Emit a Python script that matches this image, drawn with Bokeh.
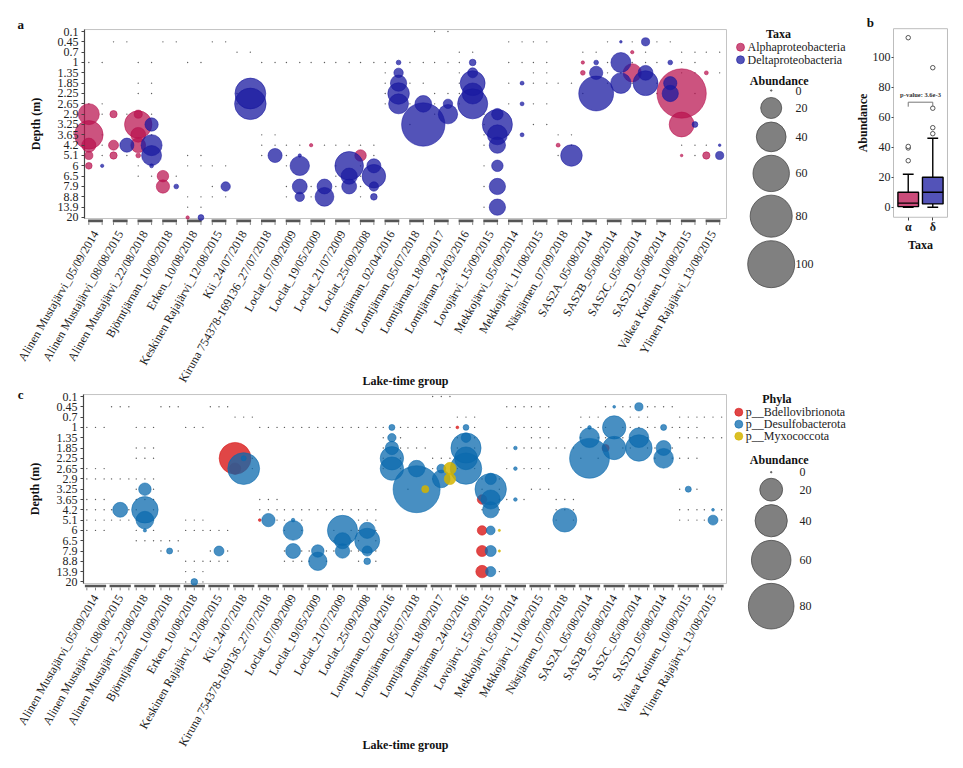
import math
from bokeh.plotting import figure
from bokeh.models import Range1d, FixedTicker, ColumnDataSource, AllLabels, LinearAxis
from bokeh.embed import file_html
from bokeh.resources import INLINE
from bokeh.core.properties import value

FONT = "Liberation Serif"

GROUPS = [
    "Alinen Mustajärvi_05/09/2014", "Alinen Mustajärvi_08/08/2015", "Alinen Mustajärvi_22/08/2018",
    "Björntjärnan_10/09/2018", "Erken_10/08/2018", "Keskinen Rajajärvi_12/08/2015", "Kii_24/07/2018",
    "Kiruna 754378-169136_27/07/2018", "Loclat_07/09/2009", "Loclat_19/05/2009", "Loclat_21/07/2009",
    "Loclat_25/09/2008", "Lomtjärnan_02/04/2016", "Lomtjärnan_05/07/2018", "Lomtjärnan_18/09/2017",
    "Lomtjärnan_24/03/2016", "Lovojärvi_15/09/2015", "Mekkojärvi_05/09/2014", "Mekkojärvi_11/08/2015",
    "Nästjärnen_07/09/2018", "SAS2A_05/08/2014", "SAS2B_05/08/2014", "SAS2C_05/08/2014",
    "SAS2D_05/08/2014", "Valkea Kotinen_10/08/2015", "Ylinen Rajajärvi_13/08/2015",
]
DEPTHS = ["0.1", "0.45", "0.7", "1", "1.35", "1.85", "2.25", "2.65", "2.9", "3.25", "3.65",
          "4.2", "5.1", "6", "6.5", "7.9", "8.8", "13.9", "20"]

# panel a : (group index, depth, abundance)
ALPHA = [
    (0, "2.9", 20), (0, "3.65", 37), (0, "4.2", 9), (0, "5.1", 3), (0, "6", 2),
    (1, "2.9", 2.4), (1, "4.2", 4.5), (1, "5.1", 2.4),
    (2, "2.9", 3), (2, "3.25", 34), (2, "3.65", 10), (2, "4.2", 10), (2, "5.1", 1),
    (3, "6.5", 6), (3, "7.9", 8), (4, "20", 0.5), (9, "4.2", 0.5), (11, "5.1", 6),
    (19, "4.2", 0.7), (20, "1", 0.5), (20, "1.35", 1), (22, "0.7", 0.5), (22, "1.35", 15),
    (24, "2.25", 110), (24, "3.25", 28), (24, "5.1", 0.3), (25, "1.35", 0.7), (25, "5.1", 2.4),
]
DELTA = [
    (0, "6", 0.5), (1, "4.2", 9),
    (2, "3.25", 8), (2, "4.2", 20), (2, "5.1", 18), (2, "6", 0.7),
    (3, "7.9", 1), (4, "20", 1.5), (5, "7.9", 4), (6, "2.25", 43), (6, "2.65", 45), (7, "5.1", 9),
    (8, "5.1", 0.5), (8, "6", 17), (8, "7.9", 10), (8, "8.8", 4),
    (9, "7.9", 10), (9, "8.8", 16), (10, "6", 37), (10, "6.5", 12), (10, "7.9", 10),
    (11, "6", 9), (11, "6.5", 25), (11, "7.9", 4), (11, "8.8", 2),
    (12, "1", 1), (12, "1.35", 4), (12, "1.85", 12), (12, "2.25", 21), (12, "2.65", 18),
    (13, "2.65", 12.6), (13, "3.25", 85), (14, "2.65", 4), (14, "2.9", 17),
    (15, "1", 2), (15, "1.35", 4.5), (15, "1.85", 28), (15, "2.25", 20), (15, "2.65", 41),
    (16, "2.9", 6), (16, "3.25", 41), (16, "3.65", 18), (16, "4.2", 12), (16, "6", 6),
    (16, "7.9", 12), (16, "13.9", 12),
    (17, "1.85", 0.7), (17, "2.65", 0.7), (17, "3.65", 0.7), (19, "5.1", 21),
    (20, "1", 1), (20, "1.35", 8), (20, "2.25", 55), (21, "0.45", 0.3), (21, "1", 18), (21, "1.85", 19),
    (22, "0.45", 3), (22, "1.35", 10), (22, "1.85", 28), (23, "1", 1), (23, "1.85", 8), (23, "2.25", 12),
    (24, "3.25", 1.5), (25, "4.2", 0.3), (25, "5.1", 3),
]

# panel c
BDELLO = [
    (6, "2.25", 39), (6, "2.65", 5), (7, "5.1", 0.3), (15, "1", 0.3), (16, "3.65", 3.5),
    (16, "6", 3.5), (16, "7.9", 4.7), (16, "13.9", 6), (21, "1.85", 2),
]
DESULFO = [
    (1, "4.2", 8.6), (2, "3.25", 6), (2, "4.2", 27), (2, "5.1", 12), (2, "6", 0.4),
    (3, "7.9", 1.4), (4, "20", 1.7), (5, "7.9", 3.8), (6, "2.25", 1), (6, "2.65", 39), (7, "5.1", 6.8),
    (8, "5.1", 0.5), (8, "6", 15), (8, "7.9", 8.6), (9, "7.9", 6), (9, "8.8", 13),
    (10, "6", 35), (10, "6.5", 10), (10, "7.9", 8), (11, "6", 10), (11, "6.5", 24), (11, "7.9", 4),
    (11, "8.8", 1.7), (12, "1", 1.4), (12, "1.35", 2.7), (12, "1.85", 6.8), (12, "2.25", 21),
    (12, "2.65", 21), (13, "2.65", 10.6), (13, "3.25", 85), (14, "2.65", 3), (14, "2.9", 12),
    (15, "1", 1.3), (15, "1.35", 3.5), (15, "1.85", 35), (15, "2.25", 20), (15, "2.65", 38),
    (16, "2.9", 5), (16, "3.25", 38), (16, "3.65", 14), (16, "4.2", 10), (16, "6", 3), (16, "7.9", 4.7),
    (16, "13.9", 4), (17, "1.85", 0.5), (17, "2.65", 0.5), (17, "3.65", 0.5), (19, "5.1", 22),
    (20, "1", 0.5), (20, "1.35", 15), (20, "2.25", 61), (21, "0.45", 0.3), (21, "1", 21), (21, "1.85", 21),
    (22, "0.45", 2.6), (22, "1.35", 15), (22, "1.85", 27), (23, "1", 1.4), (23, "1.85", 8.6),
    (23, "2.25", 15), (24, "3.25", 1.4), (25, "4.2", 0.3), (25, "5.1", 3.8),
]
MYXO = [(13, "3.25", 2), (14, "2.65", 6), (14, "2.9", 5), (16, "6", 0.2), (16, "7.9", 0.2)]

# sampled depths per group (zero-abundance points)
SAMPLED = [
    ["1", "2.65", "2.9", "3.65", "4.2", "5.1", "6"], ["0.45", "2.9", "4.2", "5.1"],
    ["1", "1.85", "2.25", "2.9", "3.25", "3.65", "4.2", "5.1", "6", "6.5"], ["0.45", "6.5", "7.9"],
    ["1", "5.1", "6", "8.8", "13.9", "20"], ["0.45", "6", "7.9", "8.8"], ["0.7", "2.25", "2.65"],
    ["1", "3.65", "4.2", "5.1"], ["1", "4.2", "5.1", "6", "7.9", "8.8"], ["1", "4.2", "7.9", "8.8"],
    ["1", "4.2", "6", "6.5", "7.9"], ["1", "4.2", "5.1", "6", "6.5", "7.9", "8.8"],
    ["1", "1.35", "1.85", "2.25", "2.65"], ["1", "1.85", "2.65", "3.25"],
    ["0.1", "1", "2.25", "2.65", "2.9"], ["0.7", "1", "1.35", "1.85", "2.25", "2.65"],
    ["2.9", "3.25", "3.65", "4.2", "6", "7.9", "13.9"], ["0.45", "1", "1.85", "2.65", "3.65"],
    ["0.45", "1", "1.35", "1.85", "2.65", "3.25"], ["1.85", "3.65", "4.2", "5.1"],
    ["0.7", "1", "1.35", "2.25"], ["0.45", "1", "1.35", "1.85"], ["0.45", "0.7", "1", "1.35", "1.85"],
    ["0.45", "1", "1.85", "2.25"], ["0.7", "1", "1.35", "2.25", "3.25", "4.2", "5.1"],
    ["0.7", "1.35", "4.2", "5.1"],
]

TAXA = ["Alphaproteobacteria", "Deltaproteobacteria"]
PHYLA = ["p__Bdellovibrionota", "p__Desulfobacterota", "p__Myxococcota"]
SIZE_BREAKS_A = [0, 20, 40, 60, 80, 100]
SIZE_BREAKS_C = [0, 20, 40, 60, 80]

# panel b summary
BOX_CATS = [1, 2]
BOX_LABELS = ["α", "δ"]
BOX_LO = [0, 0]
BOX_Q1 = [0.4, 2.2]
BOX_MED = [2.7, 10]
BOX_Q3 = [10, 20]
BOX_HI = [22, 46]
OUT_ALPHA = [31, 39.5, 40.5, 113]
OUT_DELTA = [49, 53, 66, 93]
P_Y = 70
P_TEXT = "p-value: 3.6e-3"
B_TICKS = [0, 20, 40, 60, 80, 100]

PINK, BLUE = "#B8104E", "#1A1AA0"
RED, TEAL, YELLOW = "#D81818", "#0B6AAE", "#D4B400"
DEPTH_IDX = {d: i for i, d in enumerate(DEPTHS)}

W, H = 955, 760


def lin_range(px0, scale, flip=False):
    """Range so that value v sits at canvas pixel px0 + scale*v."""
    lo, hi = (0 - px0) / scale, ((H if flip else W) - px0) / scale
    return Range1d(hi, lo) if flip else Range1d(lo, hi)


p = figure(width=W, height=H, x_range=Range1d(0, W), y_range=Range1d(H, 0),
           toolbar_location=None, output_backend="svg", min_border=0,
           x_axis_location=None, y_axis_location=None)
p.grid.visible = False
p.outline_line_color = None
p.extra_x_ranges = {"gx": lin_range(95, 24.7), "bx": Range1d(0.4 - 893 / 24.545, 0.4 + (W - 893) / 24.545)}
p.extra_y_ranges = {"ay": lin_range(31, 10.333, True), "cy": lin_range(396, 10.3, True),
                    "by": Range1d((206.7 - H) / 1.5, 206.7 / 1.5)}


def txt(x, y, s, xr, yr, size="12px", bold=False, align="center", baseline="middle", color="#111111"):
    p.text(x=[x], y=[y], text=[s], x_range_name=xr, y_range_name=yr, text_font=value(FONT),
           text_font_size=size, text_font_style="bold" if bold else "normal",
           text_align=align, text_baseline=baseline, text_color=color)


def style_axis(ax, size="12px", bold=False, tick_out=3, standoff=3):
    ax.axis_line_color = None
    ax.major_tick_line_color = "#444444"
    ax.major_tick_out = tick_out
    ax.major_tick_in = 0
    ax.minor_tick_line_color = None
    ax.major_label_standoff = standoff
    ax.major_label_text_font = FONT
    ax.major_label_text_font_size = size
    ax.major_label_text_font_style = "bold" if bold else "normal"
    ax.major_label_text_color = "#222222"
    ax.major_label_policy = AllLabels()
    ax.axis_label_text_font = FONT
    ax.axis_label_text_font_style = "bold"
    ax.axis_label_text_font_size = "12px"
    ax.axis_label_text_color = "#111111"


def size_of(a, k):
    return k * math.sqrt(a) if a > 0 else 1.5


def bubble_panel(yr, series, colors, alphas, offsets, k, bar_half, left, right, box_tb, bar_y, tick_y,
                 axis_y, letter, letter_y, xlab_y, standoff):
    n = len(GROUPS)
    p.quad(left=[left], right=[right], top=[box_tb[0]], bottom=[box_tb[1]], fill_color=None,
           line_color="#C4C4C4", line_width=1, x_range_name="gx", y_range_name=yr)
    p.segment(x0=[left], x1=[left], y0=[box_tb[0]], y1=[box_tb[1]], line_color="#444444",
              line_width=1.2, x_range_name="gx", y_range_name=yr)
    p.segment(x0=[g - bar_half for g in range(n)], x1=[g + bar_half for g in range(n)],
              y0=[bar_y] * n, y1=[bar_y] * n, line_color="#555555", line_width=2.6, line_cap="butt",
              x_range_name="gx", y_range_name=yr)
    tx = [g + o for g in range(n) for o in offsets]
    p.segment(x0=tx, x1=tx, y0=[tick_y[0]] * len(tx), y1=[tick_y[1]] * len(tx),
              line_color="#666666", line_width=0.8, x_range_name="gx", y_range_name=yr)
    zx, zy = [], []
    for si, s in enumerate(series):
        present = {(g, d) for g, d, a in s}
        for g, depths in enumerate(SAMPLED):
            for d in depths:
                if (g, d) not in present:
                    zx.append(g + offsets[si])
                    zy.append(DEPTH_IDX[d])
    p.scatter(x=zx, y=zy, size=1.4, marker="circle", fill_color="#333333", line_color=None,
              fill_alpha=0.8, x_range_name="gx", y_range_name=yr)
    for si, s in enumerate(series):
        pts = sorted(s, key=lambda t: -t[2])
        src = ColumnDataSource(dict(x=[g + offsets[si] for g, d, a in pts],
                                    y=[DEPTH_IDX[d] for g, d, a in pts],
                                    size=[size_of(a, k) for g, d, a in pts]))
        p.scatter(x="x", y="y", size="size", source=src, marker="circle", fill_color=colors[si],
                  fill_alpha=alphas[si], line_color=colors[si], line_alpha=0.9, line_width=0.6,
                  x_range_name="gx", y_range_name=yr)
    xa = LinearAxis(x_range_name="gx", y_range_name=yr, fixed_location=axis_y, bounds=(left, right),
                    ticker=FixedTicker(ticks=list(range(n))),
                    major_label_overrides={i: GROUPS[i] for i in range(n)})
    style_axis(xa, standoff=standoff)
    xa.major_tick_line_color = None
    xa.major_label_orientation = math.pi / 3
    p.add_layout(xa, "below")
    ya = LinearAxis(x_range_name="gx", y_range_name=yr, fixed_location=left, bounds=box_tb,
                    ticker=FixedTicker(ticks=list(range(len(DEPTHS)))),
                    major_label_overrides={i: DEPTHS[i] for i in range(len(DEPTHS))},
                    axis_label="Depth (m)", axis_label_standoff=12)
    style_axis(ya)
    p.add_layout(ya, "left")
    txt(-3.03, letter_y, letter, "gx", yr, size="13px", bold=True)
    txt(12.55, xlab_y, "Lake-time group", "gx", yr, bold=True)


def legend_block(title, names, colors, alphas, key_x, key_y0, key_dy, size_title_y, breaks, k,
                 circ_x, circ_y0, lab_x):
    txt(key_x + 38, key_y0 - 13.5, title, "default", "default", bold=True)
    ky = [key_y0 + i * key_dy for i in range(len(names))]
    p.scatter(x=[key_x] * len(names), y=ky, size=8, marker="circle", fill_color=colors,
              fill_alpha=alphas, line_color=colors, line_width=0.6)
    p.text(x=[key_x + 7] * len(names), y=ky, text=names, text_font=value(FONT),
           text_font_size="12px", text_align="left", text_baseline="middle", text_color="#222222")
    txt(circ_x + 8, size_title_y, "Abundance", "default", "default", bold=True)
    ds = [size_of(b, k) for b in breaks]
    ys = [circ_y0]
    for i in range(1, len(ds)):
        ys.append(ys[-1] + max((ds[i - 1] + ds[i]) / 2 + 3.5, 17.5))
    p.scatter(x=[circ_x] * len(ds), y=ys, size=ds, marker="circle", fill_color="#808080",
              line_color="#4A4A4A", line_width=0.8)
    p.text(x=[lab_x] * len(ds), y=ys, text=[str(b) for b in breaks], text_font=value(FONT),
           text_font_size="12px", text_align="left", text_baseline="middle", text_color="#222222")


# ---- panel a ----
bubble_panel("ay", [ALPHA, DELTA], [PINK, BLUE], [0.72, 0.75], [-0.27, 0.27], 4.7, 0.30,
             -0.445, 25.547, (-0.19, 18.1), 18.33, (18.46, 18.72), 18.78, "a", -0.68, 33.8, 3)
legend_block("Taxa", TAXA, [PINK, BLUE], [0.72, 0.75], 740, 46.7, 12.6, 80, SIZE_BREAKS_A, 4.7,
             770.7, 90, 795)

# ---- panel c ----
bubble_panel("cy", [BDELLO, DESULFO, MYXO], [RED, TEAL, YELLOW], [0.8, 0.75, 0.85], [-0.35, 0.0, 0.35],
             5.1, 0.43, -0.486, 25.547, (-0.19, 18.16), 18.4, (18.55, 18.82), 18.93, "c", -0.17, 33.88, 1)
legend_block("Phyla", PHYLA, [RED, TEAL, YELLOW], [0.8, 0.75, 0.85], 738.3, 411.7, 12, 459,
             SIZE_BREAKS_C, 5.1, 770.7, 471.7, 799)

# ---- panel b ----
kb = dict(x_range_name="bx", y_range_name="by")
bw, cw = 0.42, 0.22
p.quad(left=[0.4], right=[2.6], bottom=[-6.7], top=[119], fill_color=None, line_color="#BDBDBD", **kb)
p.segment(x0=BOX_CATS, x1=BOX_CATS, y0=BOX_Q3, y1=BOX_HI, line_color="black", line_width=1.4, **kb)
p.segment(x0=BOX_CATS, x1=BOX_CATS, y0=BOX_LO, y1=BOX_Q1, line_color="black", line_width=1.4, **kb)
p.segment(x0=[c - cw for c in BOX_CATS], x1=[c + cw for c in BOX_CATS], y0=BOX_HI, y1=BOX_HI,
          line_color="black", line_width=1.4, **kb)
p.segment(x0=[c - cw for c in BOX_CATS], x1=[c + cw for c in BOX_CATS], y0=BOX_LO, y1=BOX_LO,
          line_color="black", line_width=1.4, **kb)
p.quad(left=[c - bw for c in BOX_CATS], right=[c + bw for c in BOX_CATS], bottom=BOX_Q1, top=BOX_Q3,
       fill_color=[PINK, BLUE], fill_alpha=0.75, line_color="black", line_width=1.4, **kb)
p.segment(x0=[c - bw for c in BOX_CATS], x1=[c + bw for c in BOX_CATS], y0=BOX_MED, y1=BOX_MED,
          line_color="black", line_width=1.4, **kb)
p.scatter(x=[1] * len(OUT_ALPHA) + [2] * len(OUT_DELTA), y=OUT_ALPHA + OUT_DELTA, size=4.5,
          marker="circle", fill_color="white", line_color="#444444", line_width=0.9, **kb)
p.line(x=[1, 1, 2, 2], y=[P_Y - 3, P_Y, P_Y, P_Y - 3], line_color="#777777", line_width=1, **kb)
txt(1.5, P_Y + 2.5, P_TEXT, "bx", "by", size="6.5px", bold=True, baseline="bottom", color="#333333")
txt(-0.54, 123, "b", "bx", "by", size="13px", bold=True)
yb = LinearAxis(fixed_location=0.4, bounds=(-6.7, 119), ticker=FixedTicker(ticks=B_TICKS),
                axis_label="Abundance", axis_label_standoff=0, **kb)
style_axis(yb, tick_out=2, standoff=1)
p.add_layout(yb, "left")
xb = LinearAxis(fixed_location=-6.7, bounds=(0.4, 2.6), ticker=FixedTicker(ticks=BOX_CATS),
                major_label_overrides={c: l for c, l in zip(BOX_CATS, BOX_LABELS)},
                axis_label="Taxa", axis_label_standoff=0, **kb)
style_axis(xb, bold=True, standoff=0)
p.add_layout(xb, "below")

open("out.html", "w").write(file_html(p, INLINE))
